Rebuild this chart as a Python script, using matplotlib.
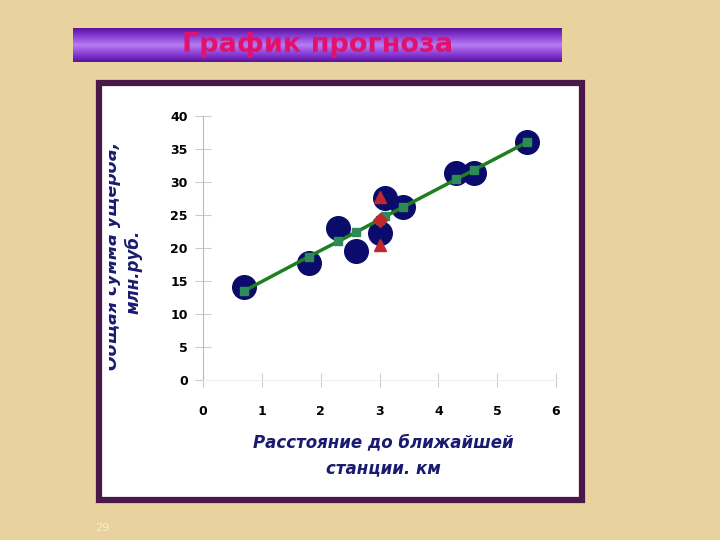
import matplotlib
matplotlib.use("Agg")
import matplotlib.pyplot as plt
import numpy as np
from matplotlib.patches import Rectangle
from matplotlib.colors import LinearSegmentedColormap

plt.rcParams['font.family'] = ['DejaVu Sans']

# ---- данные ----
distance = [0.7, 1.8, 2.3, 2.6, 3.0, 3.1, 3.4, 4.3, 4.6, 5.5]        # км
damage = [14.1, 17.8, 23.1, 19.6, 22.3, 27.5, 26.2, 31.3, 31.3, 36.0]  # млн.руб.
fitted = [13.5, 18.7, 21.0, 22.4, 24.3, 24.8, 26.2, 30.4, 31.8, 36.0]  # линия регрессии
forecast_x = [3.0]
forecast_y = [24.3]
interval_x = [3.0, 3.0]
interval_y = [27.8, 20.5]

x_ticks = [0, 1, 2, 3, 4, 5, 6]
y_ticks = [0, 5, 10, 15, 20, 25, 30, 35, 40]

BG = "#E8D39E"
NAVY = "#0B0B6B"
LABEL = "#1A1A70"

fig = plt.figure(figsize=(7.2, 5.4), dpi=100)
fig.patch.set_facecolor(BG)

W, H = 720.0, 540.0

def fbox(x0, y0, x1, y1):
    # пиксели (сверху-вниз) -> координаты фигуры
    return [x0 / W, 1 - y1 / H, (x1 - x0) / W, (y1 - y0) / H]

# --- заголовок на градиентной плашке ---
ax_t = fig.add_axes(fbox(73, 28, 562, 62))
grad = np.abs(np.linspace(-1, 1, 64))[:, None]
cm = LinearSegmentedColormap.from_list("ban", ["#B57BF2", "#8A3FD6", "#5A12A0"])
ax_t.imshow(grad, aspect="auto", cmap=cm, extent=[0, 1, 0, 1])
ax_t.set_axis_off()
ax_t.text(0.5, 0.5, "График прогноза", color="#E0126E", fontsize=19.5,
          fontweight="bold", ha="center", va="center")

# --- рамка и белая панель ---
frame = Rectangle((99 / W, 1 - 500 / H), 483 / W, 417 / H, transform=fig.transFigure,
                  facecolor="white", edgecolor="#4A1848", linewidth=4.5, zorder=-1)
fig.patches.append(frame)

# --- основной график ---
ax = fig.add_axes(fbox(203, 116, 556, 380))
ax.set_facecolor("none")
ax.plot(distance, damage, "o", color=NAVY, markersize=17, zorder=2)
ax.plot(distance, fitted, "-", color="#1F7F1F", linewidth=2.5, zorder=3)
ax.plot(distance, fitted, "s", color="#2E8B57", markersize=6, zorder=4)
ax.plot(interval_x, interval_y, "^", color="#C0282D", markersize=9, zorder=5)
ax.plot(forecast_x, forecast_y, "D", color="#C0282D", markersize=7, zorder=5)

ax.set_xlim(0, 6)
ax.set_ylim(0, 40)
ax.set_xticks(x_ticks)
ax.set_yticks(y_ticks)
for s in ["top", "right"]:
    ax.spines[s].set_visible(False)
ax.spines["left"].set_color("#BBBBBB")
ax.spines["bottom"].set_color("#EEEEEE")
ax.tick_params(axis="x", direction="inout", length=10, color="#CCCCCC", pad=13,
               labelsize=9)
ax.tick_params(axis="y", direction="inout", length=12, color="#CCCCCC", pad=5,
               labelsize=9)
for lab in ax.get_xticklabels() + ax.get_yticklabels():
    lab.set_fontweight("bold")

# подписи осей
fig.text(383 / W, 1 - 455 / H, "Расстояние до ближайшей\nстанции. км", color=LABEL,
         fontsize=12, fontweight="bold", fontstyle="italic", ha="center", va="center",
         linespacing=1.6)
fig.text(133 / W, 1 - 272 / H, "млн.руб.", color=LABEL, fontsize=12,
         fontweight="bold", fontstyle="italic", rotation=90, ha="center", va="center")
# первая строка подписи оси Y в оригинале обрезана рамкой
t = fig.text(117 / W, 1 - 256 / H, "Общая сумма ущерба,", color=LABEL, fontsize=12.5,
             fontweight="bold", fontstyle="italic", rotation=90, ha="center",
             va="baseline", rotation_mode="anchor")
t.set_clip_path(Rectangle((109 / W, 0), 1, 1, transform=fig.transFigure))

fig.text(95 / W, 1 - 528 / H, "29", color="#F4ECD6", fontsize=8, ha="left", va="center")

fig.savefig("out.png", dpi=100, facecolor=BG)
